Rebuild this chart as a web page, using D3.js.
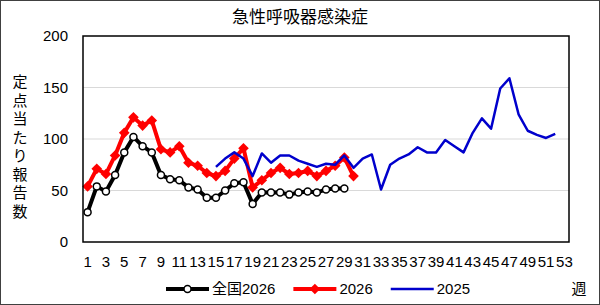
<!DOCTYPE html>
<html>
<head>
<meta charset="utf-8">
<script src="https://cdn.jsdelivr.net/npm/d3@7"></script>
<style>
  body { margin: 0; background: #fff; }
  svg { display: block; font-family: "Liberation Sans", "Noto Sans CJK JP", sans-serif; }
</style>
</head>
<body>
<div id="chart"></div>
<script>
"use strict";

/* weeks shown on the category axis */
const weeks = d3.range(1, 54);
const weekTicks = weeks.filter(function(w) { return w % 2 === 1; });
const yTicks = [0, 50, 100, 150, 200];

/* national 2026, weeks 1-29 */
const national2026 = [29, 54, 49, 65, 87, 102, 93, 87, 65, 61, 60, 53, 51, 43, 43,
  50, 57, 58, 37, 48, 48, 48, 46, 48, 49, 48, 51, 52, 52];

/* prefecture 2026, weeks 1-30 */
const pref2026 = [54, 71, 66, 84, 106, 121, 113, 118, 90, 87, 93, 77, 74, 67, 64,
  69, 81, 91, 53, 60, 67, 72, 66, 67, 69, 64, 69, 74, 82, 64];

/* prefecture 2025, weeks 1-14 not reported */
const pref2025 = [null, null, null, null, null, null, null, null, null, null, null, null, null, null,
  73, 81, 87, 81, 64, 86, 77, 84, 84, 79, 76, 73, 76, 75, 84, 72, 81, 85, 51, 75,
  81, 85, 92, 87, 87, 99, 93, 87, 106, 120, 110, 149, 159, 124, 108, 104, 101, 105];

const title = "急性呼吸器感染症";
const yTitle = "定点当たり報告数";
const seriesNames = ["全国2026", "2026", "2025"];

const W = 600, H = 305;
const plot = { left: 83, right: 569, top: 36, bottom: 242 };

const svg = d3.select("#chart").append("svg")
  .attr("width", W)
  .attr("height", H);

/* outer frame */
svg.append("rect")
  .attr("x", 0.5).attr("y", 0.5)
  .attr("width", W - 1).attr("height", H - 1)
  .attr("fill", "#fff")
  .attr("stroke", "#404040");

/* scales */
const xScale = d3.scaleBand()
  .domain(weeks)
  .range([plot.left, plot.right]);

const xPos = function(w) { return xScale(w) + xScale.bandwidth() / 2; };

const yScale = d3.scaleLinear()
  .domain([0, 200])
  .range([plot.bottom, plot.top]);

/* grid lines */
svg.append("g")
  .selectAll("line")
  .data(yTicks.slice(1, -1))
  .enter().append("line")
  .attr("x1", plot.left).attr("x2", plot.right)
  .attr("y1", function(d) { return yScale(d); })
  .attr("y2", function(d) { return yScale(d); })
  .attr("stroke", "#d9d9d9")
  .attr("stroke-width", 1);

/* y axis labels */
const yAxis = svg.append("g")
  .attr("transform", "translate(" + (plot.left - 15) + ",0)")
  .call(d3.axisLeft(yScale).tickValues(yTicks).tickSize(0).tickPadding(0));
yAxis.select(".domain").remove();
yAxis.selectAll("text")
  .style("font-size", "15px")
  .style("fill", "#000");

/* x axis labels */
const xAxis = svg.append("g")
  .attr("transform", "translate(0," + (plot.bottom + 14) + ")")
  .call(d3.axisBottom(xScale).tickValues(weekTicks).tickSize(0).tickPadding(0));
xAxis.select(".domain").remove();
xAxis.selectAll("text")
  .style("font-size", "15px")
  .style("fill", "#000")
  .attr("dy", "0.71em");

/* lines */
const line = d3.line()
  .defined(function(d) { return d !== null; })
  .x(function(d, i) { return xPos(weeks[i]); })
  .y(function(d) { return yScale(d); });

svg.append("path")
  .datum(national2026)
  .attr("d", line)
  .attr("fill", "none")
  .attr("stroke", "#000")
  .attr("stroke-width", 4)
  .attr("stroke-linejoin", "round");

svg.append("g")
  .selectAll("circle")
  .data(national2026)
  .enter().append("circle")
  .attr("cx", function(d, i) { return xPos(weeks[i]); })
  .attr("cy", function(d) { return yScale(d); })
  .attr("r", 3.5)
  .attr("fill", "#fff")
  .attr("stroke", "#000")
  .attr("stroke-width", 1.5);

svg.append("path")
  .datum(pref2026)
  .attr("d", line)
  .attr("fill", "none")
  .attr("stroke", "#ff0000")
  .attr("stroke-width", 4)
  .attr("stroke-linejoin", "round");

const diamond = d3.symbol().type(d3.symbolDiamond2).size(72);

svg.append("g")
  .selectAll("path")
  .data(pref2026)
  .enter().append("path")
  .attr("d", diamond)
  .attr("transform", function(d, i) { return "translate(" + xPos(weeks[i]) + "," + yScale(d) + ")"; })
  .attr("fill", "#ff0000");

svg.append("path")
  .datum(pref2025)
  .attr("d", line)
  .attr("fill", "none")
  .attr("stroke", "#0000cc")
  .attr("stroke-width", 2.5)
  .attr("stroke-linejoin", "round");

/* plot frame */
svg.append("rect")
  .attr("x", plot.left).attr("y", plot.top)
  .attr("width", plot.right - plot.left)
  .attr("height", plot.bottom - plot.top)
  .attr("fill", "none")
  .attr("stroke", "#000")
  .attr("stroke-width", 1.5);

/* title */
svg.append("text")
  .attr("x", 300).attr("y", 23)
  .attr("text-anchor", "middle")
  .style("font-size", "17px")
  .text(title);

/* vertical y title */
svg.append("g")
  .selectAll("text")
  .data(yTitle.split(""))
  .enter().append("text")
  .attr("x", 20)
  .attr("y", function(d, i) { return 87 + i * 18.5; })
  .attr("text-anchor", "middle")
  .style("font-size", "15px")
  .text(function(d) { return d; });

/* week unit */
svg.append("text")
  .attr("x", 579).attr("y", 294)
  .attr("text-anchor", "middle")
  .style("font-size", "15px")
  .text("週");

/* legend */
const legend = svg.append("g").attr("transform", "translate(0,289)");
let lx = 166;
seriesNames.forEach(function(name, i) {
  const color = ["#000", "#ff0000", "#0000cc"][i];
  legend.append("line")
    .attr("x1", lx).attr("x2", lx + 43)
    .attr("y1", 0).attr("y2", 0)
    .attr("stroke", color)
    .attr("stroke-width", i === 2 ? 2.5 : 4);
  if (i === 0) {
    legend.append("circle")
      .attr("cx", lx + 21.5).attr("cy", 0).attr("r", 3.5)
      .attr("fill", "#fff").attr("stroke", "#000").attr("stroke-width", 1.5);
  } else if (i === 1) {
    legend.append("path")
      .attr("d", diamond)
      .attr("transform", "translate(" + (lx + 21.5) + ",0)")
      .attr("fill", "#ff0000");
  }
  const t = legend.append("text")
    .attr("x", lx + 46).attr("y", 0)
    .attr("dy", "0.35em")
    .style("font-size", "15px")
    .text(name);
  lx += 46 + t.node().getComputedTextLength() + 18;
});
</script>
</body>
</html>
